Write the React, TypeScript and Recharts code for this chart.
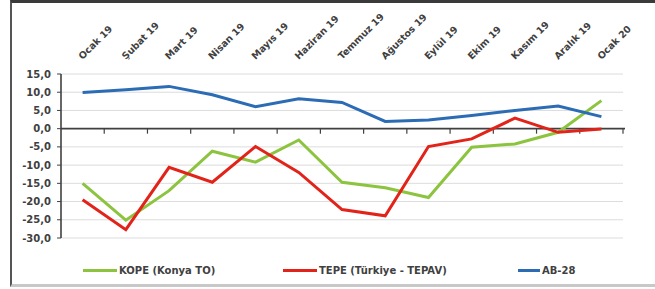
import React from 'react';
import { LineChart, Line, XAxis, YAxis, CartesianGrid, ReferenceLine } from 'recharts';

const months = [
  'Ocak 19', 'Şubat 19', 'Mart 19', 'Nisan 19', 'Mayıs 19', 'Haziran 19', 'Temmuz 19',
  'Ağustos 19', 'Eylül 19', 'Ekim 19', 'Kasım 19', 'Aralık 19', 'Ocak 20',
];
const kope = [-15.0, -25.1, -17.0, -6.2, -9.2, -3.1, -14.7, -16.2, -18.9, -5.1, -4.2, -1.0, 7.7];
const tepe = [-19.5, -27.7, -10.6, -14.7, -4.9, -12.0, -22.2, -23.9, -4.9, -2.8, 2.9, -1.0, -0.1];
const ab28 = [9.9, 10.7, 11.6, 9.3, 6.0, 8.2, 7.2, 2.0, 2.4, 3.6, 5.0, 6.2, 3.3];
const yTicks = [-30, -25, -20, -15, -10, -5, 0, 5, 10, 15];

const series = [
  { key: 'kope', name: 'KOPE (Konya TO)', color: '#8cc43f' },
  { key: 'tepe', name: 'TEPE (Türkiye - TEPAV)', color: '#e2231a' },
  { key: 'ab28', name: 'AB-28', color: '#2b6cb5' },
];

const data = months.map((m, i) => ({ month: m, kope: kope[i], tepe: tepe[i], ab28: ab28[i] }));

const FONT = '"DejaVu Sans", sans-serif';
const TEXT = '#404040';

const MonthTick = (props: any) => {
  const { x, y, payload } = props;
  const tx = x;
  const ty = y - 6;
  return (
    <text
      x={tx}
      y={ty}
      transform={`rotate(-45 ${tx} ${ty})`}
      textAnchor="start"
      fontFamily={FONT}
      fontSize={9.5}
      fontWeight="bold"
      fill={TEXT}
    >
      {payload.value}
    </text>
  );
};

// zero line with small tick marks between categories
const ZeroAxis = (props: any) => {
  const { x1, y1, x2 } = props;
  const left = Math.min(x1, x2);
  const right = Math.max(x1, x2);
  const step = (right - left) / months.length;
  const marks = [];
  for (let k = 1; k <= months.length; k++) {
    const tx = left + step * k;
    marks.push(<line key={k} x1={tx} y1={y1} x2={tx} y2={y1 + 5} stroke="#404040" strokeWidth={1.2} />);
  }
  return (
    <g>
      <line x1={left} y1={y1} x2={right + 2} y2={y1} stroke="#404040" strokeWidth={1.6} />
      {marks}
    </g>
  );
};

const legendPos = [
  { lineLeft: 83, lineWidth: 34 },
  { lineLeft: 283, lineWidth: 34 },
  { lineLeft: 518, lineWidth: 22 },
];

export default function App() {
  return (
    <div style={{ position: 'absolute', left: 0, top: 0, width: 655, height: 289, background: '#fff', overflow: 'hidden' }}>
      <div
        style={{
          position: 'absolute', left: 10, top: 0, width: 645, height: 281,
          borderLeft: '2px solid #555', borderTop: '3px solid #3a3a3a', borderBottom: '3px solid #c8c8c8',
        }}
      />
      <div style={{ position: 'absolute', left: 0, top: 0 }}>
        <LineChart width={655} height={289} data={data} margin={{ top: 0, right: 32, bottom: 51, left: 0 }}>
          <CartesianGrid vertical={false} stroke="#dcdcdc" />
          <XAxis
            dataKey="month"
            orientation="top"
            height={74}
            axisLine={false}
            tickLine={false}
            interval={0}
            padding={{ left: 21.6, right: 21.6 }}
            tick={<MonthTick />}
          />
          <YAxis
            domain={[-30, 15]}
            ticks={yTicks}
            width={61}
            interval={0}
            axisLine={{ stroke: '#404040', strokeWidth: 1.6 }}
            tickLine={{ stroke: '#404040' }}
            tickSize={4}
            tickMargin={6}
            tickFormatter={(v: number) => v.toFixed(1).replace('.', ',')}
            tick={{ fontFamily: FONT, fontSize: 10, fontWeight: 'bold', fill: TEXT }}
          />
          <ReferenceLine y={0} shape={<ZeroAxis />} />
          {series.map((s) => (
            <Line
              key={s.key}
              type="linear"
              dataKey={s.key}
              name={s.name}
              stroke={s.color}
              strokeWidth={3}
              dot={false}
              isAnimationActive={false}
            />
          ))}
        </LineChart>
      </div>
      {series.map((s, i) => (
        <div
          key={s.key}
          style={{
            position: 'absolute', left: legendPos[i].lineLeft, top: 263, height: 14,
            display: 'flex', alignItems: 'center', whiteSpace: 'nowrap',
          }}
        >
          <span style={{ display: 'inline-block', width: legendPos[i].lineWidth, height: 3, background: s.color }} />
          <span style={{ marginLeft: 2, fontFamily: FONT, fontSize: 10, fontWeight: 'bold', color: TEXT }}>{s.name}</span>
        </div>
      ))}
    </div>
  );
}
